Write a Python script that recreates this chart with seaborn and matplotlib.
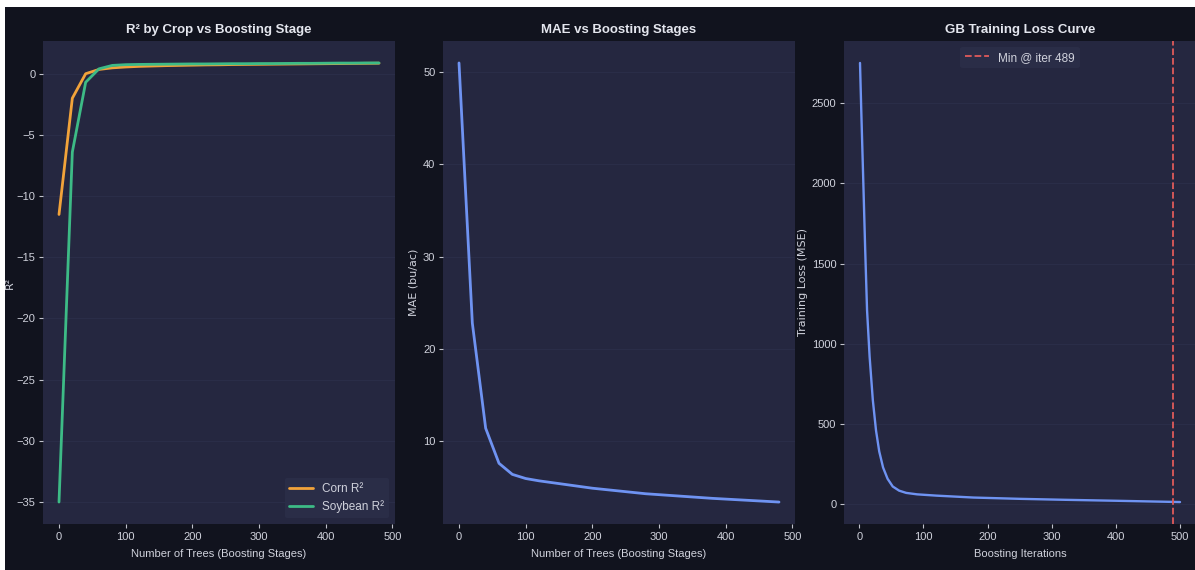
import numpy as np
import pandas as pd
import matplotlib
matplotlib.use("Agg")
import matplotlib.pyplot as plt
import seaborn as sns
from matplotlib.patches import Rectangle

# ---- data ----
stages = [0, 20, 40, 60, 80, 100, 120, 140, 160, 180, 200, 220, 240, 260, 280,
          300, 320, 340, 360, 380, 400, 420, 440, 460, 480]
corn_r2 = [-11.5, -2.0, 0.0, 0.35, 0.48, 0.55, 0.6, 0.63, 0.66, 0.68, 0.7, 0.72,
           0.73, 0.75, 0.76, 0.77, 0.78, 0.79, 0.8, 0.81, 0.82, 0.83, 0.84, 0.85, 0.86]
soy_r2 = [-35.0, -6.4, -0.7, 0.4, 0.68, 0.74, 0.76, 0.77, 0.78, 0.79, 0.8, 0.8,
          0.81, 0.82, 0.82, 0.83, 0.83, 0.84, 0.85, 0.85, 0.86, 0.87, 0.87, 0.88, 0.88]
mae = [51.0, 22.8, 11.4, 7.6, 6.4, 5.95, 5.7, 5.5, 5.3, 5.1, 4.9, 4.75, 4.6,
       4.45, 4.3, 4.2, 4.1, 4.0, 3.9, 3.8, 3.72, 3.64, 3.56, 3.48, 3.4]
loss_iter = [1, 3, 6, 9, 12, 16, 21, 26, 31, 37, 44, 52, 62, 73, 90, 120, 178,
             250, 320, 400, 450, 500]
loss_val = [2750, 2450, 2030, 1600, 1210, 920, 650, 460, 330, 230, 160, 112, 86,
            72, 63, 55, 43, 35, 29, 23, 19, 15]
min_iter = 489

# ---- style ----
FIG_BG = "#11131e"
AX_BG = "#252740"
TXT = "#d0d2dc"
GRID = "#2a2d48"
sns.set_theme(style="dark", rc={
    "figure.facecolor": FIG_BG,
    "axes.facecolor": AX_BG,
    "axes.edgecolor": AX_BG,
    "axes.labelcolor": TXT,
    "text.color": TXT,
    "xtick.color": TXT,
    "ytick.color": TXT,
    "grid.color": GRID,
    "xtick.bottom": True,
    "ytick.left": True,
})
plt.rcParams["font.family"] = ["Liberation Sans", "DejaVu Sans"]

fig = plt.figure(figsize=(11.95, 5.7), dpi=100)
fig.patch.set_facecolor("white")
fig.patches.append(Rectangle((5 / 1195, 0), 1, (570 - 7) / 570,
                             transform=fig.transFigure, facecolor=FIG_BG,
                             edgecolor="none", zorder=-10))

bottom = (570 - 524) / 570
height = 483 / 570
w = 352 / 1195
ax1 = fig.add_axes([43 / 1195, bottom, w, height])
ax2 = fig.add_axes([443 / 1195, bottom, w, height])
ax3 = fig.add_axes([844 / 1195, bottom, w, height])

TITLE_KW = dict(fontsize=9.5, fontweight="bold", color="#e4e6ee", pad=6)
YL_KW = dict(fontsize=8, family="DejaVu Sans", labelpad=3)
XL_KW = dict(fontsize=8, labelpad=5)

df1 = pd.DataFrame({"stage": stages, "Corn R²": corn_r2, "Soybean R²": soy_r2})
sns.lineplot(data=df1, x="stage", y="Corn R²", ax=ax1, color="#f2a33a", lw=2, label="Corn R²")
sns.lineplot(data=df1, x="stage", y="Soybean R²", ax=ax1, color="#3dbb86", lw=2, label="Soybean R²")
ax1.set_title("R² by Crop vs Boosting Stage", **TITLE_KW)
ax1.set_xlabel("Number of Trees (Boosting Stages)", **XL_KW)
ax1.set_ylabel("R²", fontsize=8, family="DejaVu Sans", labelpad=1)
leg = ax1.legend(loc="lower right", fontsize=8.5, facecolor="#2b2e48", edgecolor="none",
                 framealpha=0.9)
for t in leg.get_texts():
    t.set_color(TXT)

df2 = pd.DataFrame({"stage": stages, "mae": mae})
sns.lineplot(data=df2, x="stage", y="mae", ax=ax2, color="#6f93f2", lw=2)
ax2.set_title("MAE vs Boosting Stages", **TITLE_KW)
ax2.set_xlabel("Number of Trees (Boosting Stages)", **XL_KW)
ax2.set_ylabel("MAE (bu/ac)", **YL_KW)

df3 = pd.DataFrame({"iter": loss_iter, "loss": loss_val})
sns.lineplot(data=df3, x="iter", y="loss", ax=ax3, color="#6f93f2", lw=1.7)
ax3.axvline(min_iter, color="#e05a5a", ls="--", lw=1.3, label=f"Min @ iter {min_iter}")
ax3.set_title("GB Training Loss Curve", **TITLE_KW)
ax3.set_xlabel("Boosting Iterations", **XL_KW)
ax3.set_ylabel("Training Loss (MSE)", **YL_KW)
leg3 = ax3.legend(loc="upper center", fontsize=8.5, facecolor="#2b2e48", edgecolor="none",
                  framealpha=0.9)
for t in leg3.get_texts():
    t.set_color(TXT)

for ax in (ax1, ax2, ax3):
    ax.set_xticks([0, 100, 200, 300, 400, 500])
    ax.tick_params(axis="both", labelsize=8, length=3, width=0.8, color="#c0c2cc", pad=2.5)
    ax.grid(axis="y", color=GRID, lw=0.8)
    ax.grid(axis="x", visible=False)
    for s in ax.spines.values():
        s.set_visible(False)

ax1.set_yticks([-35, -30, -25, -20, -15, -10, -5, 0])
ax2.set_yticks([10, 20, 30, 40, 50])
ax3.set_yticks([0, 500, 1000, 1500, 2000, 2500])

fig.savefig("out.png", dpi=100, facecolor=fig.get_facecolor())
